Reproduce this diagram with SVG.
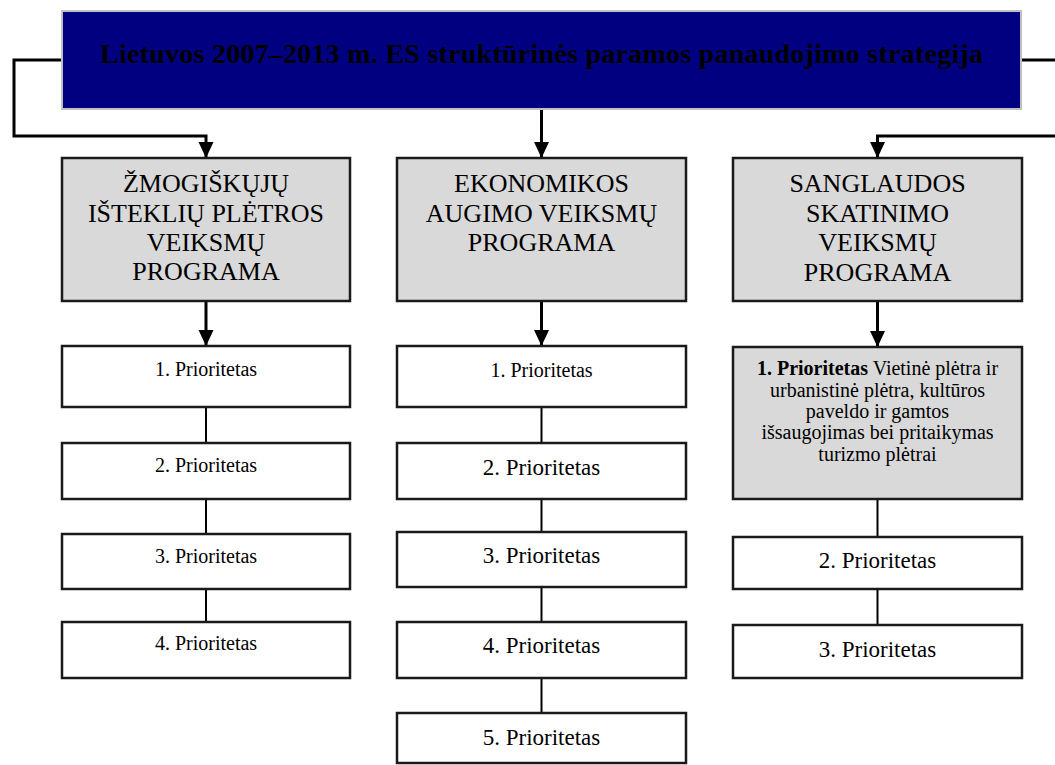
<svg xmlns="http://www.w3.org/2000/svg" width="1055" height="765" viewBox="0 0 1055 765">
<style>
  .bg { fill: #ffffff; }
  .top { fill: #000080; stroke: #c0c0c0; stroke-width: 2; }
  .prog { fill: #d9d9d9; stroke: #1a1a1a; stroke-width: 2.5; }
  .prio { fill: #ffffff; stroke: #1a1a1a; stroke-width: 2.5; }
  .prio-g { fill: #d9d9d9; stroke: #1a1a1a; stroke-width: 2.5; }
  .conn { fill: none; stroke: #000000; stroke-width: 3; }
  .link { fill: none; stroke: #000000; stroke-width: 2; }
  text { font-family: "Liberation Serif", "Times New Roman", serif; fill: #000000; text-anchor: middle; }
  .t-top { font-size: 28px; font-weight: bold; }
  .t-prog { font-size: 26px; }
  .t-s { font-size: 20px; }
  .t-l { font-size: 23px; }
</style>
<defs>
  <marker id="arrow" markerUnits="userSpaceOnUse" markerWidth="16" markerHeight="16" viewBox="0 0 16 16" refX="8" refY="16" orient="0">
    <polygon points="0.5,0 15.5,0 8,16" fill="#000000"/>
  </marker>
</defs>
<rect class="bg" x="0" y="0" width="1055" height="765"/>

<g id="connectors">
  <polyline class="conn" points="62,60 14,60 14,136 206,136 206,158" marker-end="url(#arrow)"/>
  <line class="conn" x1="541.5" y1="109" x2="541.5" y2="158" marker-end="url(#arrow)"/>
  <line class="conn" x1="1021" y1="60" x2="1056" y2="60"/>
  <polyline class="conn" points="1056,136 877.5,136 877.5,158" marker-end="url(#arrow)"/>
  <line class="conn" x1="206" y1="301" x2="206" y2="346" marker-end="url(#arrow)"/>
  <line class="conn" x1="541.5" y1="301" x2="541.5" y2="346" marker-end="url(#arrow)"/>
  <line class="conn" x1="877.5" y1="301" x2="877.5" y2="347" marker-end="url(#arrow)"/>
  <line class="link" x1="206" y1="407" x2="206" y2="443"/>
  <line class="link" x1="206" y1="499" x2="206" y2="534"/>
  <line class="link" x1="206" y1="589" x2="206" y2="622"/>
  <line class="link" x1="541.5" y1="407" x2="541.5" y2="443"/>
  <line class="link" x1="541.5" y1="499" x2="541.5" y2="532"/>
  <line class="link" x1="541.5" y1="587" x2="541.5" y2="622"/>
  <line class="link" x1="541.5" y1="678" x2="541.5" y2="713"/>
  <line class="link" x1="877.5" y1="499" x2="877.5" y2="537"/>
  <line class="link" x1="877.5" y1="589" x2="877.5" y2="625"/>
</g>

<g id="strategy">
  <rect class="top" x="62" y="11" width="959" height="98"/>
  <text class="t-top" x="541.5" y="63" textLength="883">Lietuvos 2007–2013 m. ES struktūrinės paramos panaudojimo strategija</text>
</g>

<g id="prog-zmogiskuju">
  <rect class="prog" x="62" y="158" width="288" height="143"/>
  <text class="t-prog" x="206" y="192">ŽMOGIŠKŲJŲ</text>
  <text class="t-prog" x="206" y="222">IŠTEKLIŲ PLĖTROS</text>
  <text class="t-prog" x="206" y="251">VEIKSMŲ</text>
  <text class="t-prog" x="206" y="280">PROGRAMA</text>
</g>

<g id="prog-ekonomikos">
  <rect class="prog" x="397" y="158" width="289" height="143"/>
  <text class="t-prog" x="541.5" y="192">EKONOMIKOS</text>
  <text class="t-prog" x="541.5" y="222">AUGIMO VEIKSMŲ</text>
  <text class="t-prog" x="541.5" y="251">PROGRAMA</text>
</g>

<g id="prog-sanglaudos">
  <rect class="prog" x="733" y="158" width="289" height="143"/>
  <text class="t-prog" x="877.5" y="192">SANGLAUDOS</text>
  <text class="t-prog" x="877.5" y="222">SKATINIMO</text>
  <text class="t-prog" x="877.5" y="251">VEIKSMŲ</text>
  <text class="t-prog" x="877.5" y="281">PROGRAMA</text>
</g>

<g id="z-p1"><rect class="prio" x="62" y="346" width="288" height="61"/><text class="t-s" x="206" y="376">1. Prioritetas</text></g>
<g id="z-p2"><rect class="prio" x="62" y="443" width="288" height="56"/><text class="t-s" x="206" y="472">2. Prioritetas</text></g>
<g id="z-p3"><rect class="prio" x="62" y="534" width="288" height="55"/><text class="t-s" x="206" y="563">3. Prioritetas</text></g>
<g id="z-p4"><rect class="prio" x="62" y="622" width="288" height="56"/><text class="t-s" x="206" y="650">4. Prioritetas</text></g>

<g id="e-p1"><rect class="prio" x="397" y="346" width="289" height="61"/><text class="t-s" x="541.5" y="377">1. Prioritetas</text></g>
<g id="e-p2"><rect class="prio" x="397" y="443" width="289" height="56"/><text class="t-l" x="541.5" y="475">2. Prioritetas</text></g>
<g id="e-p3"><rect class="prio" x="397" y="532" width="289" height="55"/><text class="t-l" x="541.5" y="563">3. Prioritetas</text></g>
<g id="e-p4"><rect class="prio" x="397" y="622" width="289" height="56"/><text class="t-l" x="541.5" y="653">4. Prioritetas</text></g>
<g id="e-p5"><rect class="prio" x="397" y="713" width="289" height="50"/><text class="t-l" x="541.5" y="745">5. Prioritetas</text></g>

<g id="s-p1">
  <rect class="prio-g" x="733" y="347" width="289" height="152"/>
  <text class="t-s" x="877.5" y="375"><tspan font-weight="bold">1. Prioritetas</tspan> Vietinė plėtra ir</text>
  <text class="t-s" x="877.5" y="397">urbanistinė plėtra, kultūros</text>
  <text class="t-s" x="877.5" y="418">paveldo ir gamtos</text>
  <text class="t-s" x="877.5" y="439">išsaugojimas bei pritaikymas</text>
  <text class="t-s" x="877.5" y="461">turizmo plėtrai</text>
</g>
<g id="s-p2"><rect class="prio" x="733" y="537" width="289" height="52"/><text class="t-l" x="877.5" y="568">2. Prioritetas</text></g>
<g id="s-p3"><rect class="prio" x="733" y="625" width="289" height="53"/><text class="t-l" x="877.5" y="657">3. Prioritetas</text></g>
</svg>
